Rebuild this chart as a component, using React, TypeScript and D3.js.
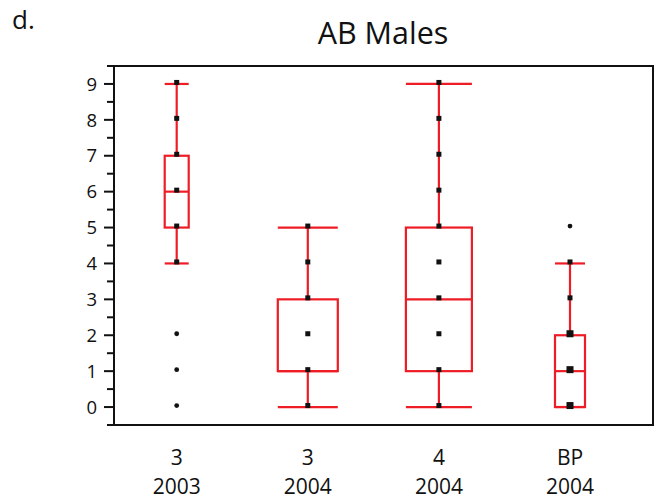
import React from "react";
import * as d3 from "d3";

const categories = ["3|2003", "3|2004", "4|2004", "BP|2004"];
const groupLabels = [["3", "2003"], ["3", "2004"], ["4", "2004"], ["BP", "2004"]];
const q1 = [5, 1, 1, 0];
const medians = [6, 1, 3, 1];
const q3 = [7, 3, 5, 2];
const whiskerLow = [4, 0, 0, 0];
const whiskerHigh = [9, 5, 9, 4];
const boxWidths = [24, 60, 66, 30];
const points = [
  [0, 1, 2, 4, 5, 6, 7, 8, 9],
  [0, 1, 2, 3, 4, 5],
  [0, 1, 2, 3, 4, 5, 6, 7, 8, 9],
  [0, 0, 0, 1, 1, 1, 2, 2, 2, 3, 4, 5],
];
const yTicks = [0, 1, 2, 3, 4, 5, 6, 7, 8, 9];
const yMinorTicks = [-0.5, 0.5, 1.5, 2.5, 3.5, 4.5, 5.5, 6.5, 7.5, 8.5, 9.5];

const W = 661;
const H = 501;
const left = 114;
const right = 653;
const top = 66;
const bottom = 425;
const RED = "#ee1c25";
const FONT = "'Open Sans', sans-serif";

export default function App() {
  const y = d3.scaleLinear().domain([-0.5, 9.5]).range([bottom, top]);
  const x = d3.scalePoint<string>().domain(categories).range([176.7, 570]);

  return (
    <svg width={W} height={H} style={{ position: "absolute", left: 0, top: 0 }} fontFamily={FONT}>
      <rect width={W} height={H} fill="#fff" />
      <text x={12} y={29} fontSize={26} fill="#111">d.</text>
      <text x={383} y={44} fontSize={30.5} textAnchor="middle" fill="#111">AB Males</text>

      {/* frame */}
      <rect x={left} y={top} width={right - left} height={bottom - top} fill="none" stroke="#111" strokeWidth={2} />

      {/* y axis ticks */}
      {yTicks.map((t) => (
        <g key={"t" + t}>
          <line x1={left - 10} x2={left} y1={y(t)} y2={y(t)} stroke="#111" strokeWidth={2} />
          <text x={97} y={y(t)} dy="0.36em" fontSize={18.5} textAnchor="end" fill="#111">{t}</text>
        </g>
      ))}
      {yMinorTicks.map((t) => (
        <line key={"m" + t} x1={left - 7} x2={left} y1={y(t)} y2={y(t)} stroke="#111" strokeWidth={2} />
      ))}

      {/* boxes */}
      {categories.map((c, i) => {
        const cx = x(c) as number;
        const w = boxWidths[i];
        return (
          <g key={c} stroke={RED} strokeWidth={2.2} fill="none">
            <line x1={cx} x2={cx} y1={y(whiskerHigh[i])} y2={y(q3[i])} />
            <line x1={cx} x2={cx} y1={y(q1[i])} y2={y(whiskerLow[i])} />
            <line x1={cx - w / 2} x2={cx + w / 2} y1={y(whiskerHigh[i])} y2={y(whiskerHigh[i])} />
            <line x1={cx - w / 2} x2={cx + w / 2} y1={y(whiskerLow[i])} y2={y(whiskerLow[i])} />
            <rect x={cx - w / 2} y={y(q3[i])} width={w} height={y(q1[i]) - y(q3[i])} />
            <line x1={cx - w / 2} x2={cx + w / 2} y1={y(medians[i])} y2={y(medians[i])} />
          </g>
        );
      })}

      {/* points */}
      {categories.map((c, i) => {
        const cx = x(c) as number;
        const counts = d3.rollup(points[i], (v) => v.length, (d) => d);
        return Array.from(counts.entries()).map(([v, n]) => {
          const py = y(v) - 1.5;
          const outlier = v < whiskerLow[i] || v > whiskerHigh[i];
          if (outlier) {
            return <circle key={c + v} cx={cx} cy={py} r={2.4} fill="#111" />;
          }
          const s = n > 1 ? 7 : 5;
          return <rect key={c + v} x={cx - s / 2} y={py - s / 2} width={s} height={s} fill="#111" />;
        });
      })}

      {/* x labels */}
      {categories.map((c, i) => (
        <g key={"xl" + c}>
          <text x={x(c) as number} y={465} fontSize={21} textAnchor="middle" fill="#111">{groupLabels[i][0]}</text>
          <text x={x(c) as number} y={494} fontSize={21} textAnchor="middle" fill="#111">{groupLabels[i][1]}</text>
        </g>
      ))}
    </svg>
  );
}
